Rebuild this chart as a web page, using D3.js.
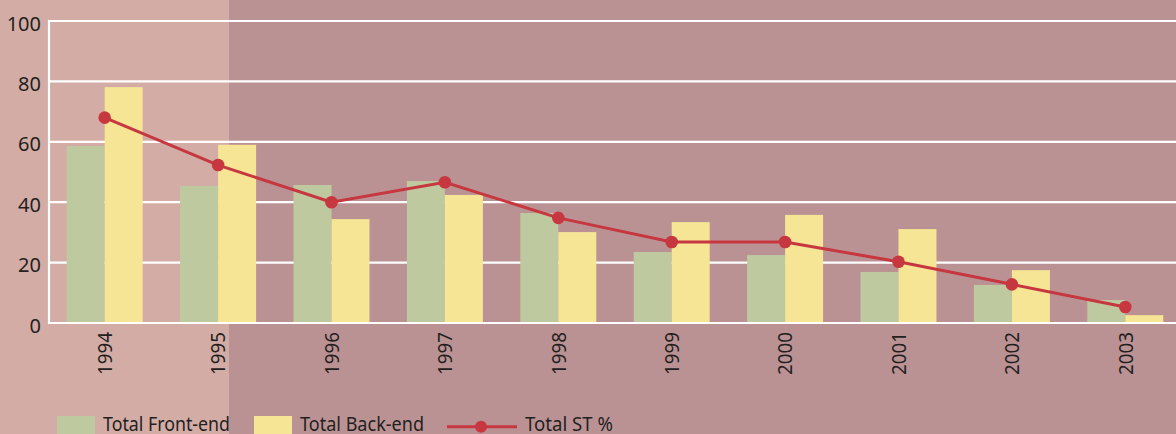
<!DOCTYPE html>
<html lang="en">
<head>
<meta charset="utf-8">
<title>Front-end / Back-end</title>
<script src="https://cdn.jsdelivr.net/npm/d3@7"></script>
<style>
    body { margin: 0; background: #bb9294; }
    svg { display: block; }
    text { font-family: "Noto Sans", "Open Sans", sans-serif; fill: #231f20; }
    .tick text { font-size: 20px; }
    .legend text { font-size: 20px; }
</style>
</head>
<body>
<svg id="chart" width="1176" height="434"></svg>
<script>
    // data
    const years = ["1994", "1995", "1996", "1997", "1998", "1999", "2000", "2001", "2002", "2003"];
    const frontEnd = [58.6, 45.4, 45.7, 47.0, 36.4, 23.5, 22.5, 16.9, 12.6, 7.6];
    const backEnd = [78.1, 59.0, 34.4, 42.4, 30.1, 33.4, 35.8, 31.1, 17.5, 2.6];
    const stPct = [68.0, 52.3, 40.0, 46.6, 34.8, 26.8, 26.8, 20.3, 12.8, 5.3];
    const yTicks = [0, 20, 40, 60, 80, 100];
    const seriesNames = ["Total Front-end", "Total Back-end", "Total ST %"];

    const colors = {
        front: "#bfc9a0",
        back: "#f5e594",
        line: "#c6373f",
        light: "#d4aca6",
        dark: "#bb9294",
        grid: "#ffffff"
    };

    const W = 1176, H = 434;
    const plot = {left: 48, right: 1182, top: 21, bottom: 323};

    const svg = d3.select("#chart");

    // background panels
    svg.append("rect").attr("width", W).attr("height", H).attr("fill", colors.dark);
    svg.append("rect").attr("width", 229).attr("height", H).attr("fill", colors.light);

    const x = d3.scaleBand()
        .domain(years)
        .range([plot.left, plot.right])
        .paddingInner(0.33)
        .paddingOuter(0.165);
    const barW = x.bandwidth() / 2;

    const y = d3.scaleLinear()
        .domain([0, 100])
        .range([plot.bottom, plot.top]);

    // gridlines
    svg.append("g")
        .selectAll("line")
        .data(yTicks.filter(d => d > 0))
        .enter().append("line")
        .attr("x1", plot.left).attr("x2", W)
        .attr("y1", d => y(d)).attr("y2", d => y(d))
        .attr("stroke", colors.grid)
        .attr("stroke-width", 2.2);

    // y axis labels
    const yAxis = svg.append("g")
        .attr("transform", "translate(" + plot.left + ",0)")
        .call(d3.axisLeft(y).tickValues(yTicks).tickSize(0).tickPadding(7));
    yAxis.select(".domain").remove();
    yAxis.selectAll("text").attr("dy", "0.45em");

    // bars
    const rows = years.map((yr, i) => ({year: yr, front: frontEnd[i], back: backEnd[i], st: stPct[i]}));

    svg.append("g").selectAll("rect")
        .data(rows)
        .enter().append("rect")
        .attr("x", d => x(d.year))
        .attr("y", d => y(d.front))
        .attr("width", barW)
        .attr("height", d => y(0) - y(d.front))
        .attr("fill", colors.front);

    svg.append("g").selectAll("rect")
        .data(rows)
        .enter().append("rect")
        .attr("x", d => x(d.year) + barW)
        .attr("y", d => y(d.back))
        .attr("width", barW)
        .attr("height", d => y(0) - y(d.back))
        .attr("fill", colors.back);

    // left axis line and baseline
    svg.append("line")
        .attr("x1", plot.left + 1).attr("x2", plot.left + 1)
        .attr("y1", y(100) - 1).attr("y2", y(0) + 1)
        .attr("stroke", colors.grid).attr("stroke-width", 2.2);
    svg.append("line")
        .attr("x1", plot.left).attr("x2", W)
        .attr("y1", y(0)).attr("y2", y(0))
        .attr("stroke", colors.grid).attr("stroke-width", 2.2);

    // x axis labels
    const xAxis = svg.append("g")
        .attr("transform", "translate(0," + (plot.bottom + 9) + ")")
        .call(d3.axisBottom(x).tickSize(0).tickPadding(0));
    xAxis.select(".domain").remove();
    xAxis.selectAll("text")
        .attr("transform", "rotate(-90)")
        .attr("text-anchor", "end")
        .attr("x", 0)
        .attr("y", 0)
        .attr("dy", "0.36em")
        .attr("textLength", 43)
        .attr("lengthAdjust", "spacingAndGlyphs");

    // line series
    const cx = d => x(d.year) + x.bandwidth() / 2;
    svg.append("path")
        .datum(rows)
        .attr("fill", "none")
        .attr("stroke", colors.line)
        .attr("stroke-width", 3)
        .attr("d", d3.line().x(cx).y(d => y(d.st)));

    svg.append("g").selectAll("circle")
        .data(rows)
        .enter().append("circle")
        .attr("cx", cx)
        .attr("cy", d => y(d.st))
        .attr("r", 6.3)
        .attr("fill", colors.line);

    // legend
    const legend = svg.append("g").attr("class", "legend");
    legend.append("rect").attr("x", 57).attr("y", 416).attr("width", 38).attr("height", 20).attr("fill", colors.front);
    legend.append("text").attr("x", 103).attr("y", 431).text(seriesNames[0])
        .attr("textLength", 127).attr("lengthAdjust", "spacingAndGlyphs");
    legend.append("rect").attr("x", 254).attr("y", 416).attr("width", 38).attr("height", 20).attr("fill", colors.back);
    legend.append("text").attr("x", 300).attr("y", 431).text(seriesNames[1])
        .attr("textLength", 124).attr("lengthAdjust", "spacingAndGlyphs");
    legend.append("line").attr("x1", 447).attr("x2", 517).attr("y1", 426.7).attr("y2", 426.7)
        .attr("stroke", colors.line).attr("stroke-width", 3);
    legend.append("circle").attr("cx", 481).attr("cy", 426.7).attr("r", 6).attr("fill", colors.line);
    legend.append("text").attr("x", 525).attr("y", 431).text(seriesNames[2])
        .attr("textLength", 88).attr("lengthAdjust", "spacingAndGlyphs");
</script>
</body>
</html>
